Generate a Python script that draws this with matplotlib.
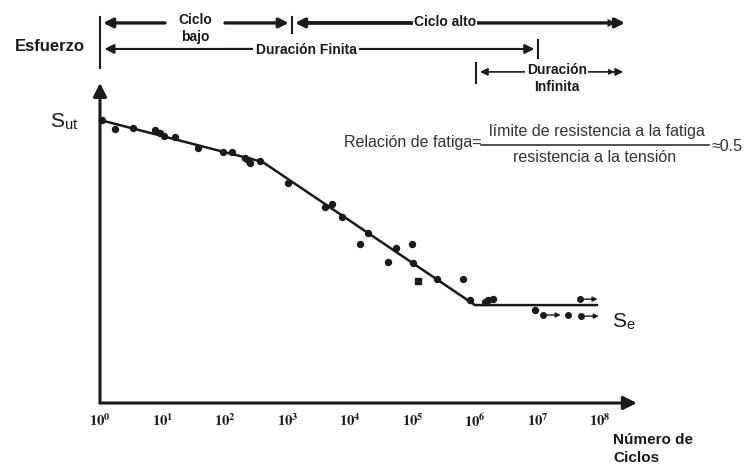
import numpy as np
import matplotlib
matplotlib.use('Agg')
import matplotlib.pyplot as plt
from matplotlib import font_manager

# ── Data (log10 of cycles, stress as fraction of Sut) ─────────
curve_logN = [0.0, 2.6, 6.0, 7.95]
curve_S    = [1.0, 0.852, 0.346, 0.346]

test_logN = [0.03, 0.24, 0.53, 0.88, 0.96, 1.02, 1.20, 1.57, 1.97, 2.11,
             2.32, 2.37, 2.40, 2.56, 3.01, 3.60, 3.71, 3.87, 4.29, 4.16,
             4.74, 4.99, 4.61, 5.01, 5.39, 5.81, 5.92, 6.16, 6.21, 6.29,
             6.96]
test_S    = [1.0, 0.968, 0.972, 0.965, 0.954, 0.943, 0.940, 0.901, 0.887, 0.887,
             0.866, 0.859, 0.848, 0.855, 0.777, 0.693, 0.703, 0.657, 0.601, 0.562,
             0.548, 0.562, 0.498, 0.495, 0.438, 0.438, 0.364, 0.357, 0.364, 0.367,
             0.329]

square_logN = [5.09]
square_S    = [0.431]

runout_logN = [7.09, 7.49, 7.70, 7.68]
runout_S    = [0.311, 0.311, 0.307, 0.367]
runout_arrow = [True, False, True, True]

decades = list(range(9))
tick_labels = [r'$\mathbf{10^{%d}}$' % k for k in decades]

# ── Fonts ─────────────────────────────────────────────────────
avail = {f.name for f in font_manager.fontManager.ttflist}
narrow = ['Liberation Sans Narrow'] if 'Liberation Sans Narrow' in avail else []
bold_font = narrow + ['Liberation Sans', 'DejaVu Sans']
plt.rcParams['mathtext.fontset'] = 'stix'

ink = '#1a1a1a'

# ── Figure ────────────────────────────────────────────────────
fig = plt.figure(figsize=(7.49, 4.71), dpi=100)
ax = fig.add_axes([100 / 749, 68 / 471, 540 / 749, 403 / 471])
ax.set_xscale('log')
ax.set_xlim(1, 10 ** 8.64)
ax.set_ylim(0, 403 / 283)
for s in ax.spines.values():
    s.set_visible(False)
ax.set_yticks([])
ax.set_xticks([10.0 ** k for k in decades])
ax.set_xticklabels(tick_labels, fontsize=10.5, color=ink)
ax.tick_params(axis='x', length=0, pad=7)
ax.minorticks_off()

# axes with arrows
ax.annotate('', xy=(10 ** 8.59, 0), xytext=(1, 0), annotation_clip=False,
            arrowprops=dict(arrowstyle='-|>', lw=2.2, color=ink, mutation_scale=20,
                            shrinkA=0, shrinkB=0))
ax.annotate('', xy=(1, 1.131), xytext=(1, 0), annotation_clip=False,
            arrowprops=dict(arrowstyle='-|>', lw=2.2, color=ink, mutation_scale=20,
                            shrinkA=0, shrinkB=0))

# S-N curve
ax.plot(10.0 ** np.array(curve_logN), curve_S, color=ink, lw=1.8, clip_on=False)
ax.plot(10.0 ** np.array(test_logN), test_S, 'o', color=ink, ms=4.3, clip_on=False)
ax.plot(10.0 ** np.array(square_logN), square_S, 's', color=ink, ms=4, clip_on=False)
ax.plot(10.0 ** np.array(runout_logN), runout_S, 'o', color=ink, ms=4, clip_on=False)
for lx, s, arr in zip(runout_logN, runout_S, runout_arrow):
    if arr:
        ax.annotate('', xy=(10 ** (lx + 0.28), s), xytext=(10 ** lx, s),
                    annotation_clip=False,
                    arrowprops=dict(arrowstyle='-|>', lw=1.0, color=ink,
                                    mutation_scale=7, shrinkA=0, shrinkB=0))


def arrow(x0, x1, y, lw=2.0, style='-|>', ms=14):
    ax.annotate('', xy=(10 ** x1, y), xytext=(10 ** x0, y), annotation_clip=False,
                arrowprops=dict(arrowstyle=style, lw=lw, color=ink,
                                mutation_scale=ms, shrinkA=0, shrinkB=0))


def vline(x, y0, y1):
    ax.plot([10 ** x, 10 ** x], [y0, y1], color=ink, lw=1.5, clip_on=False)


# ── Top annotations ───────────────────────────────────────────
ax.text(10 ** -0.8, 1.258, 'Esfuerzo', ha='center', va='center', fontsize=12,
        fontweight='bold', family=bold_font, color=ink)

vline(0.0, 1.184, 1.364)
vline(3.07, 1.307, 1.364)
vline(7.0, 1.219, 1.283)
vline(6.02, 1.131, 1.201)

# Ciclo bajo
arrow(1.04, 0.05, 1.343, lw=2.4)
arrow(2.0, 3.02, 1.343, lw=2.4)
ax.text(10 ** 1.52, 1.353, 'Ciclo', ha='center', va='center', fontsize=10,
        fontweight='bold', family=bold_font, color=ink)
ax.text(10 ** 1.52, 1.293, 'bajo', ha='center', va='center', fontsize=10,
        fontweight='bold', family=bold_font, color=ink)

# Ciclo alto
arrow(6.0, 3.12, 1.343, lw=2.4)
arrow(3.3, 8.4, 1.343, lw=2.4)
arrow(8.1, 8.25, 1.343, lw=0.1)
ax.text(10 ** 5.52, 1.345, 'Ciclo alto', ha='center', va='center', fontsize=10,
        fontweight='bold', family=bold_font, color=ink,
        bbox=dict(fc='white', ec='none', pad=1))

# Duración finita
arrow(4.0, 0.07, 1.251, lw=1.5)
arrow(2.0, 6.95, 1.251, lw=1.5)
ax.text(10 ** 3.3, 1.247, 'Duración Finita', ha='center', va='center', fontsize=10,
        fontweight='bold', family=bold_font, color=ink,
        bbox=dict(fc='white', ec='none', pad=2))

# Duración infinita
arrow(7.2, 6.08, 1.170, lw=1.2, ms=11)
arrow(7.3, 8.37, 1.170, lw=1.2, ms=11)
arrow(8.1, 8.23, 1.170, lw=0.1, ms=11)
ax.text(10 ** 7.31, 1.177, 'Duración', ha='center', va='center', fontsize=10,
        fontweight='bold', family=bold_font, color=ink,
        bbox=dict(fc='white', ec='none', pad=1))
ax.text(10 ** 7.31, 1.117, 'Infinita', ha='center', va='center', fontsize=10,
        fontweight='bold', family=bold_font, color=ink)

# ── Labels ────────────────────────────────────────────────────
ax.text(10 ** -0.8, 0.993, r'S$_{\mathregular{ut}}$', ha='left', va='center',
        fontsize=15, family='Liberation Sans', color=ink)
ax.text(10 ** 8.19, 0.286, r'S$_{\mathregular{e}}$', ha='left', va='center',
        fontsize=15, family='Liberation Sans', color=ink)

ax.text(10 ** 8.21, -0.131, 'Número de', ha='left', va='center', fontsize=11,
        fontweight='bold', family=bold_font, color=ink)
ax.text(10 ** 8.21, -0.194, 'Ciclos', ha='left', va='center', fontsize=11,
        fontweight='bold', family=bold_font, color=ink)

# fatigue ratio
gray = '#333333'
ax.text(10 ** 6.11, 0.919, 'Relación de fatiga=', ha='right', va='center',
        fontsize=11.5, family='Liberation Sans', color=gray)
ax.text(10 ** 7.95, 0.958, 'límite de resistencia a la fatiga', ha='center',
        va='center', fontsize=11.5, family='Liberation Sans', color=gray)
ax.text(10 ** 7.92, 0.866, 'resistencia a la tensión', ha='center',
        va='center', fontsize=11.5, family='Liberation Sans', color=gray)
ax.plot([10 ** 6.10, 10 ** 9.74], [0.912, 0.912], color=gray, lw=1.2, clip_on=False)
ax.text(10 ** 9.78, 0.908, '≈0.5', ha='left', va='center',
        fontsize=11.5, family='Liberation Sans', color=gray)

fig.savefig('out.png', dpi=100, facecolor='white')
